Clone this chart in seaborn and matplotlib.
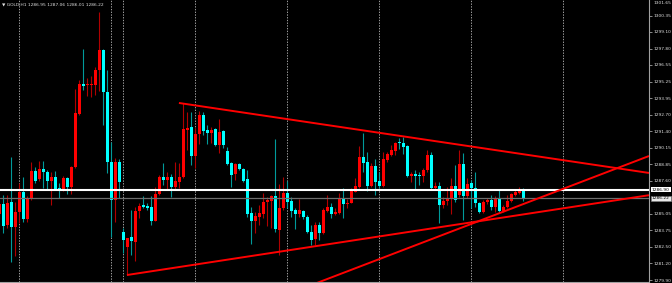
import numpy as np
import pandas as pd
import matplotlib
matplotlib.use("Agg")
import matplotlib.pyplot as plt
from matplotlib import font_manager
import seaborn as sns

SYMBOL = "GOLD,H1"

OPEN = [1285.02, 1285.79, 1284.17, 1285.95, 1284.01, 1285.17, 1286.72, 1284.63, 1286.18, 1288.34,
        1287.72, 1288.50, 1288.26, 1287.57, 1287.88, 1287.03, 1286.87, 1287.80, 1287.10, 1288.65,
        1292.75, 1295.07, 1294.99, 1294.99, 1294.99, 1296.15, 1297.69, 1294.45, 1289.04, 1286.10,
        1289.04, 1283.63, 1282.47, 1283.24, 1282.85, 1285.25, 1285.71, 1285.64, 1285.56, 1284.48,
        1286.56, 1287.88, 1287.65, 1287.88, 1287.10, 1287.49, 1287.88, 1291.51, 1291.74, 1289.50,
        1291.20, 1292.67, 1291.51, 1291.28, 1291.59, 1290.35, 1291.43, 1289.89, 1288.96, 1288.11,
        1288.88, 1288.50, 1287.72, 1285.10, 1284.48, 1284.79, 1285.02, 1285.95, 1286.02, 1286.41,
        1283.78, 1285.48, 1286.64, 1286.02, 1285.33, 1285.02, 1285.25, 1284.79, 1283.63, 1283.08,
        1284.17, 1283.55, 1285.25, 1285.56, 1285.02, 1285.10, 1286.25, 1285.79, 1285.87, 1286.72,
        1287.10, 1289.42, 1289.04, 1287.18, 1288.73, 1287.57, 1287.18, 1289.19, 1289.58, 1289.89,
        1290.58, 1290.51, 1290.27, 1287.96, 1288.11, 1288.03, 1287.96, 1288.42, 1289.58, 1287.03,
        1287.18, 1285.71, 1286.02, 1286.25, 1287.18, 1286.49, 1288.88, 1286.41, 1287.41, 1287.03,
        1285.87, 1285.17, 1285.95, 1286.10, 1285.56, 1286.25, 1285.25, 1285.56, 1286.02, 1286.49,
        1286.64, 1286.95]

HIGH = [1286.10, 1286.49, 1286.49, 1289.42, 1285.95, 1287.41, 1287.88, 1286.41, 1289.04, 1288.65,
        1289.11, 1289.11, 1288.42, 1288.26, 1288.34, 1287.41, 1287.96, 1287.88, 1288.73, 1294.68,
        1295.38, 1297.77, 1295.53, 1295.69, 1296.38, 1300.63, 1297.75, 1296.15, 1290.58, 1289.35,
        1289.27, 1283.94, 1283.20, 1285.33, 1285.56, 1285.87, 1286.41, 1285.87, 1286.41, 1287.10,
        1288.03, 1288.96, 1288.26, 1288.11, 1289.04, 1288.96, 1293.60, 1292.90, 1292.90, 1291.67,
        1292.98, 1292.90, 1291.90, 1291.74, 1291.67, 1292.36, 1291.51, 1290.20, 1289.04, 1288.96,
        1288.96, 1288.57, 1288.42, 1285.56, 1285.17, 1285.71, 1286.64, 1286.33, 1286.49, 1290.82,
        1287.34, 1287.88, 1287.57, 1286.33, 1285.48, 1286.18, 1285.33, 1284.94, 1284.17, 1284.40,
        1284.40, 1285.48, 1286.49, 1285.87, 1285.48, 1286.64, 1287.03, 1286.18, 1287.03, 1287.80,
        1290.27, 1291.28, 1289.81, 1288.96, 1289.27, 1288.26, 1289.81, 1289.81, 1290.35, 1290.58,
        1290.89, 1290.97, 1290.35, 1288.26, 1288.42, 1288.26, 1288.57, 1289.96, 1289.81, 1287.49,
        1287.49, 1286.33, 1287.10, 1287.80, 1288.81, 1289.96, 1289.73, 1287.80, 1287.65, 1288.26,
        1285.95, 1286.10, 1286.25, 1286.49, 1286.41, 1286.95, 1285.71, 1286.49, 1286.64, 1286.87,
        1287.10, 1287.06]

LOW = [1284.63, 1283.55, 1283.94, 1281.31, 1281.77, 1284.32, 1284.40, 1284.40, 1286.10, 1287.41,
       1287.57, 1287.03, 1286.95, 1285.71, 1286.87, 1286.25, 1286.80, 1286.56, 1286.56, 1288.57,
       1292.67, 1294.60, 1294.14, 1294.06, 1294.22, 1294.53, 1291.90, 1288.19, 1283.24, 1284.40,
       1286.25, 1282.00, 1280.30, 1281.85, 1281.38, 1284.71, 1285.48, 1285.33, 1284.17, 1284.48,
       1286.49, 1287.26, 1286.87, 1286.33, 1286.87, 1287.03, 1287.80, 1289.96, 1288.81, 1288.57,
       1290.43, 1291.12, 1290.43, 1290.51, 1290.27, 1289.73, 1290.12, 1288.81, 1287.10, 1287.65,
       1288.42, 1287.49, 1284.79, 1282.70, 1283.55, 1284.17, 1284.71, 1284.09, 1283.94, 1283.63,
       1281.85, 1285.33, 1285.48, 1284.79, 1283.86, 1284.79, 1284.63, 1283.55, 1282.62, 1282.62,
       1283.01, 1283.47, 1285.17, 1284.71, 1284.94, 1285.02, 1284.71, 1285.48, 1285.87, 1286.72,
       1287.03, 1288.26, 1286.80, 1287.10, 1286.49, 1287.03, 1287.10, 1289.04, 1289.50, 1289.58,
       1290.04, 1289.66, 1287.88, 1287.49, 1286.95, 1287.26, 1287.49, 1288.26, 1286.87, 1286.87,
       1284.32, 1285.48, 1285.71, 1285.02, 1285.95, 1286.33, 1284.55, 1286.25, 1285.48, 1285.56,
       1285.10, 1285.10, 1285.79, 1285.33, 1285.17, 1285.10, 1285.17, 1285.48, 1285.95, 1286.41,
       1286.56, 1286.01]

CLOSE = [1285.79, 1284.09, 1285.87, 1284.01, 1285.17, 1286.72, 1284.63, 1286.25, 1288.34, 1287.57,
         1288.50, 1288.26, 1287.57, 1287.88, 1286.95, 1286.87, 1287.80, 1287.10, 1288.65, 1292.83,
         1295.07, 1294.91, 1295.07, 1295.07, 1296.15, 1297.69, 1294.45, 1289.04, 1286.10, 1289.04,
         1287.49, 1283.01, 1283.16, 1282.93, 1285.25, 1285.64, 1285.56, 1285.48, 1284.48, 1286.56,
         1287.88, 1287.65, 1287.88, 1287.10, 1287.57, 1287.88, 1291.59, 1291.67, 1289.50, 1291.20,
         1292.67, 1291.43, 1291.28, 1291.51, 1290.35, 1291.36, 1290.35, 1288.88, 1288.03, 1288.88,
         1288.50, 1287.57, 1285.02, 1284.48, 1284.86, 1285.10, 1285.95, 1286.10, 1286.41, 1283.86,
         1285.48, 1286.64, 1285.95, 1285.25, 1285.02, 1285.33, 1284.79, 1283.63, 1283.01, 1284.17,
         1283.55, 1285.33, 1285.56, 1285.02, 1285.17, 1286.25, 1285.79, 1285.87, 1286.80, 1287.18,
         1289.42, 1288.96, 1287.18, 1288.73, 1287.49, 1287.18, 1289.27, 1289.66, 1289.96, 1290.51,
         1290.51, 1290.20, 1287.96, 1288.11, 1287.96, 1287.96, 1288.42, 1289.58, 1287.03, 1287.18,
         1285.71, 1286.02, 1286.25, 1287.18, 1286.10, 1288.88, 1286.41, 1287.34, 1287.03, 1285.87,
         1285.17, 1285.95, 1286.10, 1285.56, 1286.25, 1285.25, 1285.56, 1286.02, 1286.56, 1286.72,
         1286.95, 1286.22]

# day separators (bar index)
SEPARATORS = [5, 28, 31, 49, 72, 95, 118, 141]

# right price scale
TICK_PRICES = [1300.35, 1299.10, 1297.80, 1296.55, 1295.25, 1293.95, 1292.70, 1291.40,
               1290.15, 1288.85, 1287.60, 1285.05, 1283.75, 1282.50, 1281.20, 1279.90]
TICK_LABELS = ["1300.35", "1299.10", "1297.80", "1296.55", "1295.25", "1293.95", "1292.70", "1291.40",
               "1290.15", "1288.85", "1287.60", "1285.05", "1283.75", "1282.50", "1281.20", "1279.90"]
TOP_TICK = 1301.65
TOP_TICK_LABEL = "1301.65"

HLINE_PRICE = 1286.90
BID_PRICE = 1286.22

# trend lines: (bar index, price) anchor pairs
TREND1_X = [44.9, 162.4]
TREND1_Y = [1293.60, 1288.19]
TREND2_X = [31.9, 162.4]
TREND2_Y = [1280.30, 1286.47]
TREND3_X = [79.0, 162.4]
TREND3_Y = [1279.64, 1289.50]

X_RANGE = (0.175, 162.4)
Y_RANGE = (1279.76, 1301.56)

sns.set_theme(style="dark", rc={"axes.facecolor": "black", "figure.facecolor": "black",
                                "savefig.facecolor": "black"})
plt.rcParams["font.family"] = ["DejaVu Sans"]

installed = {f.name for f in font_manager.fontManager.ttflist}
small_font = "Liberation Sans Narrow" if "Liberation Sans Narrow" in installed else "DejaVu Sans Condensed"
small_size = 3.9 if small_font == "Liberation Sans Narrow" else 3.2

df = pd.DataFrame({"open": OPEN, "high": HIGH, "low": LOW, "close": CLOSE})
df["bar"] = np.arange(len(df))
up = (df["close"] >= df["open"]).to_numpy()

fig = plt.figure(figsize=(6.72, 2.83), dpi=100)
ax = fig.add_axes([0, 1 / 283, 649 / 672, 282 / 283])
ax.set_facecolor("black")
ax.set_xlim(*X_RANGE)
ax.set_ylim(*Y_RANGE)
ax.grid(False)

for s in SEPARATORS:
    ax.axvline(s, color="#a0a0a0", lw=0.7, ls=(0, (1.4, 1.4)), zorder=1)

wick_cols = np.where(up, "#b00000", "#009a9a")
body_cols = np.where(up, "#ff0000", "#00ffff")
ax.vlines(df["bar"], df["low"], df["high"], colors=wick_cols, lw=0.8, zorder=3)
bottoms = np.minimum(df["open"], df["close"])
heights = np.maximum(np.abs(df["close"] - df["open"]), 0.07)
ax.bar(df["bar"], heights, bottom=bottoms, width=0.75, color=body_cols, lw=0, zorder=4)

ax.axhline(BID_PRICE, color="#6e6e6e", lw=0.9, zorder=5)
ax.axhline(HLINE_PRICE, color="white", lw=1.5, zorder=5)

for tx, ty in [(TREND1_X, TREND1_Y), (TREND2_X, TREND2_Y), (TREND3_X, TREND3_Y)]:
    ax.plot(tx, ty, color="#ff0000", lw=1.4, zorder=6, solid_capstyle="butt")

for side in ["top", "left"]:
    ax.spines[side].set_visible(False)
for side in ["right", "bottom"]:
    ax.spines[side].set_visible(True)
    ax.spines[side].set_color("#a0a0a0")
    ax.spines[side].set_linewidth(0.8)

ax.set_xticks([])
ax.yaxis.tick_right()
ax.set_yticks(TICK_PRICES)
ax.set_yticklabels(TICK_LABELS, family=[small_font, "DejaVu Sans"])
ax.tick_params(axis="y", which="major", direction="out", length=2, width=0.6,
               color="#a0a0a0", labelcolor="#e0e0e0", labelsize=small_size, pad=1.2, right=True)

ytr = ax.get_yaxis_transform()
fig.text(653.5 / 672, 1 - 0.5 / 283, TOP_TICK_LABEL, ha="left", va="top",
         fontsize=small_size, family=[small_font, "DejaVu Sans"], color="#e0e0e0")
ax.text(1.0 + 3 / 649, HLINE_PRICE, f"{HLINE_PRICE:.2f}", transform=ytr, ha="left", va="center",
        fontsize=small_size, family=[small_font, "DejaVu Sans"], color="black", clip_on=False,
        bbox=dict(boxstyle="square,pad=0.15", fc="white", ec="none"))
ax.text(1.0 + 3 / 649, BID_PRICE, f"{BID_PRICE:.2f}", transform=ytr, ha="left", va="center",
        fontsize=small_size, family=[small_font, "DejaVu Sans"], color="black", clip_on=False,
        bbox=dict(boxstyle="square,pad=0.15", fc="#e8e8e8", ec="#808080", lw=0.4))

header = f"\u25bc {SYMBOL} {OPEN[-1]:.2f} {HIGH[-1]:.2f} {LOW[-1]:.2f} {CLOSE[-1]:.2f}"
fig.text(2 / 672, 1 - 4.5 / 283, header, ha="left", va="center", fontsize=small_size,
         family=[small_font, "DejaVu Sans"], color="#e0e0e0")

fig.savefig("out.png", dpi=100, facecolor="black")
